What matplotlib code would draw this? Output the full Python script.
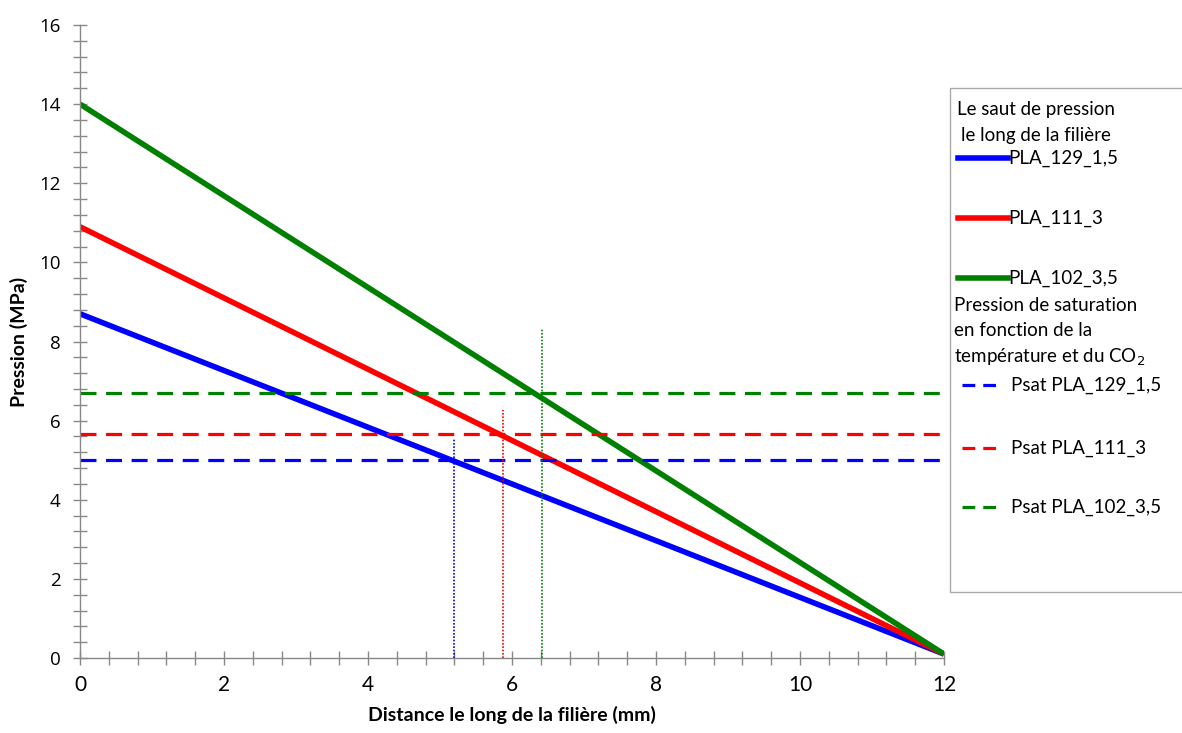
import numpy as np
import matplotlib.pyplot as plt
from matplotlib.lines import Line2D
from matplotlib.patches import Rectangle
from matplotlib.ticker import MultipleLocator

plt.rcParams['font.family'] = ['Lato', 'DejaVu Sans']

# données
x_pos = [0, 12]
p_blue = [8.7, 0.1]    # PLA_129_1,5
p_red = [10.9, 0.1]    # PLA_111_3
p_green = [14.0, 0.1]  # PLA_102_3,5
psat = [5.0, 5.65, 6.7]
x_cross = [5.2, 5.88, 6.42]
dot_top = [5.56, 6.27, 8.34]
noms = ['PLA_129_1,5', 'PLA_111_3', 'PLA_102_3,5']
couleurs = ['#0000ff', '#ff0000', '#008000']

fig = plt.figure(figsize=(11.82, 7.33), dpi=100)
ax = fig.add_axes([0.0677, 0.1023, 0.7309, 0.8636])

for y, c in zip([p_blue, p_red, p_green], couleurs):
    ax.plot(x_pos, y, color=c, lw=4.0, solid_capstyle='butt')
for ps, c in zip(psat, couleurs):
    ax.plot(x_pos, [ps, ps], color=c, lw=2.3, dashes=(5, 3))
for xc, yt, c in zip(x_cross, dot_top, couleurs):
    ax.plot([xc, xc], [0, yt], color=c, lw=1.2, ls=(0, (1, 1)))

ax.set_xlim(0, 12)
ax.set_ylim(0, 16)
ax.xaxis.set_major_locator(MultipleLocator(2))
ax.xaxis.set_minor_locator(MultipleLocator(0.4))
ax.yaxis.set_major_locator(MultipleLocator(2))
ax.yaxis.set_minor_locator(MultipleLocator(0.4))
for s in ['top', 'right']:
    ax.spines[s].set_visible(False)
for s in ['left', 'bottom']:
    ax.spines[s].set_color('#888888')
    ax.spines[s].set_linewidth(1.0)
ax.tick_params(which='both', direction='inout', length=10, width=1.0, color='#888888')
ax.tick_params(axis='x', labelsize=15, pad=7)
ax.tick_params(axis='y', labelsize=13.5, pad=9)
for lab in ax.get_yticklabels():
    lab.set_family(['Open Sans', 'DejaVu Sans'])
ax.set_xlabel('Distance le long de la filière (mm)', fontsize=14, fontweight='bold', labelpad=8)
ax.set_ylabel('Pression (MPa)', fontsize=14, fontweight='bold', labelpad=8)

# légende dessinée à la main (espacements irréguliers)
W, H = 1182.0, 733.0
def fx(px):
    return px / W
def fy(py):
    return 1 - py / H

fig.add_artist(Rectangle((fx(950), fy(592)), fx(240), (592 - 88) / H, transform=fig.transFigure,
                         fill=False, edgecolor='#aaaaaa', lw=1.0))
fs = 13.5
fig.text(fx(1036), fy(110), 'Le saut de pression', ha='center', va='center', fontsize=fs)
fig.text(fx(1036), fy(135), 'le long de la filière', ha='center', va='center', fontsize=fs)
for nom, c, py in zip(noms, couleurs, [158, 218, 278]):
    fig.add_artist(Line2D([fx(958), fx(1008)], [fy(py), fy(py)], color=c, lw=4.0,
                          transform=fig.transFigure))
    fig.text(fx(1008), fy(py), nom, ha='left', va='center', fontsize=fs)
fig.text(fx(954), fy(305), 'Pression de saturation', ha='left', va='center', fontsize=fs)
fig.text(fx(954), fy(331), 'en fonction de la', ha='left', va='center', fontsize=fs)
fig.text(fx(954), fy(357), 'température et du CO$_2$', ha='left', va='center', fontsize=fs)
for nom, c, py in zip(noms, couleurs, [385, 448, 507]):
    fig.add_artist(Line2D([fx(962), fx(1002)], [fy(py), fy(py)], color=c, lw=2.3, dashes=(4, 2.5),
                          transform=fig.transFigure))
    fig.text(fx(1011), fy(py), 'Psat ' + nom, ha='left', va='center', fontsize=fs)

fig.savefig('out.png', dpi=100)
